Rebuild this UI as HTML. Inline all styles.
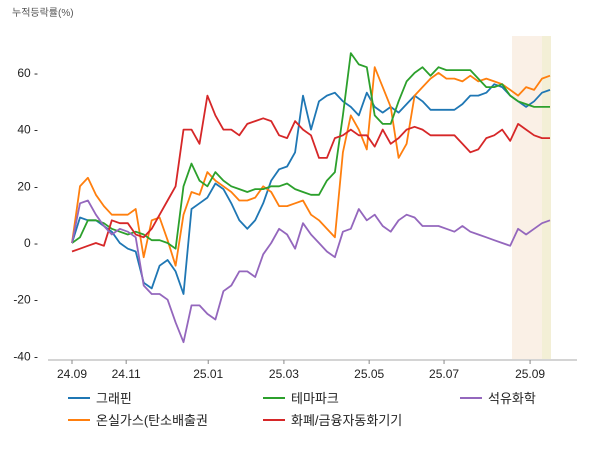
<!DOCTYPE html>
<html><head><meta charset="utf-8"><style>
body{margin:0;background:#fff;}
svg{display:block;font-family:"Liberation Sans","Noto Sans CJK KR",sans-serif;}
</style></head><body>
<svg id="chart" width="600" height="450" viewBox="0 0 600 450">
<text x="12" y="16" font-size="10" fill="#555">누적등락률(%)</text>
<rect x="512" y="36" width="30" height="323" fill="#faf0e6"/>
<rect x="542" y="36" width="9" height="323" fill="#f3efd6"/>
<g id="axes"></g>
<g id="series"></g>
<g id="legend"></g>
</svg>
<script>
const xTickLabels=["24.09","24.11","25.01","25.03","25.05","25.07","25.09"];
const xTickPos=[0,6.8,17.1,26.6,37.3,46.7,57.5]; // position in data-index units
const yTicks=[-40,-20,0,20,40,60];
const seriesNames=["그래핀","온실가스(탄소배출권","테마파크","화폐/금융자동화기기","석유화학"];
const colors=["#1f77b4","#ff7f0e","#2ca02c","#d62728","#9467bd"];
const sGraphene=[0,9,8,8,6,4,0,-2,-3,-14,-16,-8,-6,-10,-18,12,14,16,21,19,14,8,5,8,14,22,26,27,32,52,40,50,52,53,50,48,45,53,48,46,48,46,49,52,50,47,47,47,47,49,52,52,53,56,55,52,50,48,50,53,54];
const sCarbon=[0,20,23,17,13,10,10,10,12,-5,8,9,1,-8,10,18,17,25,22,20,18,15,15,16,20,18,13,13,14,15,10,8,5,2,32,45,40,33,62,55,48,30,35,52,55,58,60,58,58,57,59,57,58,57,56,54,52,55,54,58,59];
const sTheme=[0,2,8,8,7,5,4,3,4,3,1,1,0,-2,20,28,22,20,25,22,20,19,18,19,19,20,20,21,19,18,17,17,22,25,45,67,63,62,45,42,42,50,57,60,62,59,62,61,61,61,61,58,55,55,56,52,50,49,48,48,48];
const sCash=[-3,-2,-1,0,-1,8,7,7,3,2,5,10,15,20,40,40,35,52,45,40,40,38,42,43,44,43,38,37,43,40,38,30,30,37,38,40,38,38,34,40,35,37,40,41,40,38,38,38,38,35,32,33,37,38,40,36,42,40,38,37,37];
const sPetro=[0,14,15,10,6,3,5,4,2,-15,-18,-18,-20,-28,-35,-22,-22,-25,-27,-17,-15,-10,-10,-12,-4,0,5,3,-2,7,3,0,-3,-5,4,5,12,8,10,6,4,8,10,9,6,6,6,5,4,6,4,3,2,1,0,-1,5,3,5,7,8];
const allSeries=[sGraphene,sCarbon,sTheme,sCash,sPetro];
const NS="http://www.w3.org/2000/svg";
const X0=72,X1=550,N=61;
function xIdx(i){return X0+(X1-X0)*i/(N-1);}
function yV(v){return 243-v*2.835;}
function mk(tag,attrs,parent){const e=document.createElementNS(NS,tag);for(const k in attrs)e.setAttribute(k,attrs[k]);parent.appendChild(e);return e;}
const axes=document.getElementById('axes');
const base=mk('line',{x1:48,x2:577,y1:360,y2:360,stroke:'#aaa','stroke-width':1},axes);


yTicks.forEach(v=>{
  const t=mk('text',{x:38,y:yV(v)+4,'font-size':12,'text-anchor':'end',fill:'#222'},axes);
  t.textContent=v+' -';
  
  
});
xTickLabels.forEach((l,i)=>{
  const x=xIdx(xTickPos[i]);
  const tk=mk('line',{x1:x,x2:x,y1:360,y2:364,stroke:'#888'},axes);
  
  
  const t=mk('text',{x:x,y:378,'font-size':12,'text-anchor':'middle',fill:'#222'},axes);
  t.textContent=l;
  
  
});
const sg=document.getElementById('series');
allSeries.forEach((s,k)=>{
  const d=s.map((v,i)=>(i?'L':'M')+xIdx(i).toFixed(1)+','+yV(v).toFixed(1)).join(' ');
  const p=mk('path',{d:d,fill:'none',stroke:colors[k],'stroke-width':1.8,'stroke-linejoin':'round'},sg);
  
  
});
const lg=document.getElementById('legend');
const lpos=[[68,398],[68,420],[263,398],[263,420],[460,398]];
seriesNames.forEach((n,k)=>{
  const [x,y]=lpos[k];
  const g=mk('g',{},lg);
  
  
  mk('line',{x1:x,x2:x+22,y1:y,y2:y,stroke:colors[k],'stroke-width':2},g);
  const t=mk('text',{x:x+28,y:y+5,'font-size':13,fill:'#222'},g);
  t.textContent=n;
});
</script>
</body></html>
